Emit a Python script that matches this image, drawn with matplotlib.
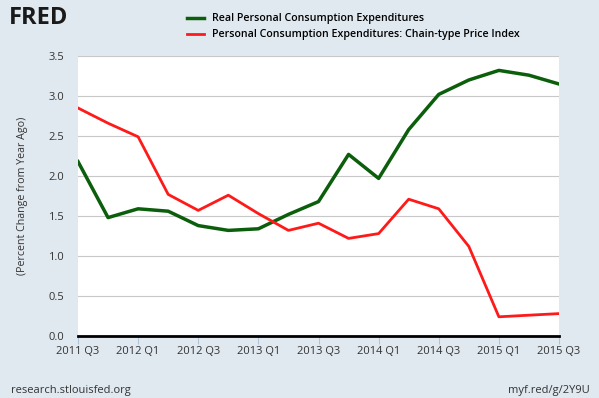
import matplotlib
matplotlib.use("Agg")
import matplotlib.pyplot as plt

quarters = ["2011 Q3","2011 Q4","2012 Q1","2012 Q2","2012 Q3","2012 Q4","2013 Q1","2013 Q2",
            "2013 Q3","2013 Q4","2014 Q1","2014 Q2","2014 Q3","2014 Q4","2015 Q1","2015 Q2","2015 Q3"]
real_pce = [2.18,1.48,1.59,1.56,1.38,1.32,1.34,1.52,1.68,2.27,1.97,2.58,3.02,3.20,3.32,3.26,3.15]
pce_price = [2.85,2.66,2.49,1.77,1.57,1.76,1.53,1.32,1.41,1.22,1.28,1.71,1.59,1.12,0.24,0.26,0.28]
yticks = [0.0,0.5,1.0,1.5,2.0,2.5,3.0,3.5]

plt.rcParams['font.family'] = ['Open Sans', 'DejaVu Sans']
bg = '#e1e9f0'
fig = plt.figure(figsize=(5.99,3.98), dpi=100, facecolor=bg)
ax = fig.add_axes([78/599, 1-336/398, (559-78)/599, (336-56)/398])
ax.set_facecolor('white')
x = list(range(len(quarters)))
ax.plot(x, real_pce, color='#0b5e0b', lw=2.5, label='Real Personal Consumption Expenditures')
ax.plot(x, pce_price, color='#ff1a1a', lw=2.0, label='Personal Consumption Expenditures: Chain-type Price Index')
ax.set_xlim(0, len(quarters)-1)
ax.set_ylim(0, 3.5)
ax.set_yticks(yticks)
ax.set_yticklabels([f"{v:.1f}" for v in yticks])
ax.set_xticks(x[::2])
ax.set_xticklabels(quarters[::2])
ax.grid(axis='y', color='#c8c8c8', lw=0.8)
ax.set_axisbelow(True)
for s in ['top','right','left']:
    ax.spines[s].set_visible(False)
ax.spines['bottom'].set_color('black')
ax.spines['bottom'].set_linewidth(2)
ax.tick_params(axis='y', length=0, labelsize=8, colors='#333333', pad=10)
ax.tick_params(axis='x', length=6, color='#b0c4d8', labelsize=8, labelcolor='#333333', pad=1)
ax.set_ylabel('(Percent Change from Year Ago)', fontsize=7.7, color='#333333', labelpad=15)

fig.text(0.015, 0.955, 'FRED', fontsize=17, fontweight='bold', color='#1a1a1a', va='center')
fig.legend(loc='upper left', bbox_to_anchor=(180/599, 0.985), frameon=False,
           handlelength=1.5, handleheight=0.5, labelspacing=0.45, borderaxespad=0.3,
           prop={'weight':'semibold', 'size':7.7})
fig.text(0.018, 0.005, 'research.stlouisfed.org', fontsize=8, color='#333333', va='bottom')
fig.text(0.985, 0.005, 'myf.red/g/2Y9U', fontsize=8, color='#333333', va='bottom', ha='right')
fig.savefig('out.png', dpi=100, facecolor=bg)
